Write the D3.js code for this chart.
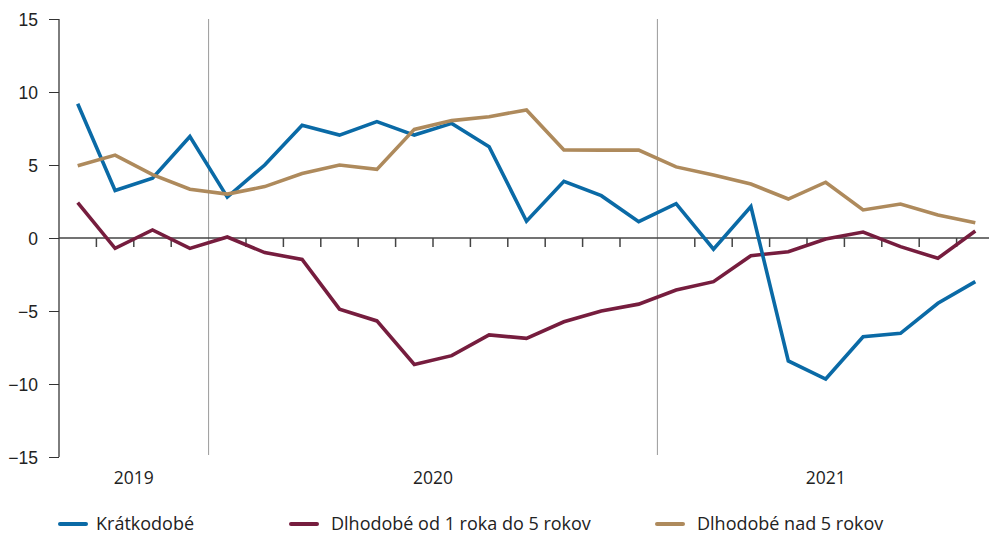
<!DOCTYPE html>
<html>
<head>
<meta charset="utf-8">
<script src="https://cdn.jsdelivr.net/npm/d3@7"></script>
<style>
  html, body { margin: 0; padding: 0; background: #fff; }
  svg { display: block; font-family: "Open Sans", Lato, sans-serif; }
</style>
</head>
<body>
<div id="chart"></div>
<script>
'use strict';

// months Sep 2019 .. Sep 2021
var months = [
  '2019-09', '2019-10', '2019-11', '2019-12',
  '2020-01', '2020-02', '2020-03', '2020-04', '2020-05', '2020-06',
  '2020-07', '2020-08', '2020-09', '2020-10', '2020-11', '2020-12',
  '2021-01', '2021-02', '2021-03', '2021-04', '2021-05', '2021-06',
  '2021-07', '2021-08', '2021-09'
];

var kratkodobe = [
  9.2, 3.25, 4.1, 6.95, 2.8, 5.0, 7.72, 7.05, 7.97, 7.05,
  7.85, 6.25, 1.15, 3.88, 2.9, 1.12, 2.35, -0.77, 2.15, -8.42,
  -9.66, -6.76, -6.53, -4.47, -2.99
];

var dlhodobe1do5 = [
  2.42, -0.71, 0.55, -0.71, 0.07, -1.0, -1.47, -4.87, -5.68, -8.66,
  -8.06, -6.64, -6.87, -5.74, -5.0, -4.53, -3.56, -2.99, -1.21, -0.94,
  -0.07, 0.41, -0.59, -1.39, 0.48
];

var dlhodobeNad5 = [
  4.95, 5.68, 4.34, 3.34, 3.01, 3.52, 4.42, 5.0, 4.7, 7.44,
  8.04, 8.31, 8.77, 6.03, 6.02, 6.02, 4.87, 4.32, 3.7, 2.67,
  3.82, 1.92, 2.33, 1.58, 1.05
];

var years = ['2019', '2020', '2021'];
var yTicks = [-15, -10, -5, 0, 5, 10, 15];

var seriesNames = ['Krátkodobé', 'Dlhodobé od 1 roka do 5 rokov', 'Dlhodobé nad 5 rokov'];
var seriesColors = ['#0a6aa6', '#761d3e', '#ae8a5c'];

var width = 989, height = 536;
var margin = { top: 19, left: 59, bottom: 79 };
var band = 37.4;
var fontSize = '17.5px';

var svg = d3.select('#chart').append('svg')
  .attr('width', width)
  .attr('height', height);

var x = d3.scaleBand()
  .domain(months)
  .range([margin.left, margin.left + band * months.length]);

var y = d3.scaleLinear()
  .domain([-15, 15])
  .range([height - margin.bottom, margin.top]);

// year separators
var yearStarts = years.slice(1).map(function (yr) {
  return months.indexOf(yr + '-01');
});
svg.selectAll('.sep')
  .data(yearStarts)
  .enter()
  .append('line')
  .attr('class', 'sep')
  .attr('x1', function (i) { return x(months[i]); })
  .attr('x2', function (i) { return x(months[i]); })
  .attr('y1', y(15))
  .attr('y2', y(-15) - 2)
  .attr('stroke', '#9a9a9a')
  .attr('stroke-width', 1);

// y axis
var yAxis = svg.append('g')
  .attr('transform', 'translate(' + margin.left + ',0)')
  .call(d3.axisLeft(y).tickValues(yTicks).tickSize(10).tickPadding(11));
yAxis.select('.domain').attr('stroke', '#7d7d7d').attr('stroke-width', 2)
  .attr('d', 'M0,' + y(15) + 'V' + y(-15));
yAxis.selectAll('.tick line').attr('stroke', '#333').attr('stroke-width', 1);
yAxis.selectAll('text')
  .attr('dy', '0.36em')
  .style('font-size', fontSize)
  .style('fill', '#222');

// zero line with month ticks
var xAxis = svg.append('g')
  .attr('transform', 'translate(0,' + y(0) + ')')
  .call(d3.axisBottom(x).tickSize(9).tickFormat(''));
xAxis.select('.domain').attr('d', 'M' + margin.left + ',0H' + width)
  .attr('stroke', '#444').attr('stroke-width', 1.5);
xAxis.selectAll('.tick')
  .attr('transform', function (d) { return 'translate(' + x(d) + ',0)'; });
xAxis.selectAll('.tick line').attr('stroke', '#444').attr('stroke-width', 1.5);
xAxis.selectAll('.tick').filter(function (d) { return d === months[0] || d.slice(5) === '01'; }).remove();

// year labels
svg.selectAll('.year')
  .data(years)
  .enter()
  .append('text')
  .attr('class', 'year')
  .attr('x', function (yr) {
    var own = months.filter(function (m) { return m.slice(0, 4) === yr; });
    var a = x(own[0]), b = x(own[own.length - 1]) + x.bandwidth();
    return (a + b) / 2;
  })
  .attr('y', 484)
  .attr('text-anchor', 'middle')
  .style('font-size', fontSize)
  .style('fill', '#222')
  .text(function (yr) { return yr; });

// lines
var line = d3.line()
  .x(function (d, i) { return x(months[i]) + x.bandwidth() / 2; })
  .y(function (d) { return y(d); });

var seriesData = [kratkodobe, dlhodobe1do5, dlhodobeNad5];
[1, 0, 2].forEach(function (k) {
  svg.append('path')
    .datum(seriesData[k])
    .attr('fill', 'none')
    .attr('stroke', seriesColors[k])
    .attr('stroke-width', 3.6)
    .attr('stroke-linejoin', 'miter')
    .attr('d', line);
});

// legend
var legendX = [60, 291, 657];
var legend = svg.selectAll('.legend')
  .data(seriesNames)
  .enter()
  .append('g')
  .attr('class', 'legend')
  .attr('transform', function (d, i) { return 'translate(' + legendX[i] + ',524)'; });
legend.append('line')
  .attr('x1', 0).attr('x2', 26)
  .attr('stroke', function (d, i) { return seriesColors[i]; })
  .attr('stroke-width', 4)
  .attr('stroke-linecap', 'round');
legend.append('text')
  .attr('x', function (d, i) { return i === 0 ? 36 : 40; })
  .attr('y', 6)
  .style('font-size', '18px')
  .style('fill', '#222')
  .text(function (d) { return d; });
</script>
</body>
</html>
